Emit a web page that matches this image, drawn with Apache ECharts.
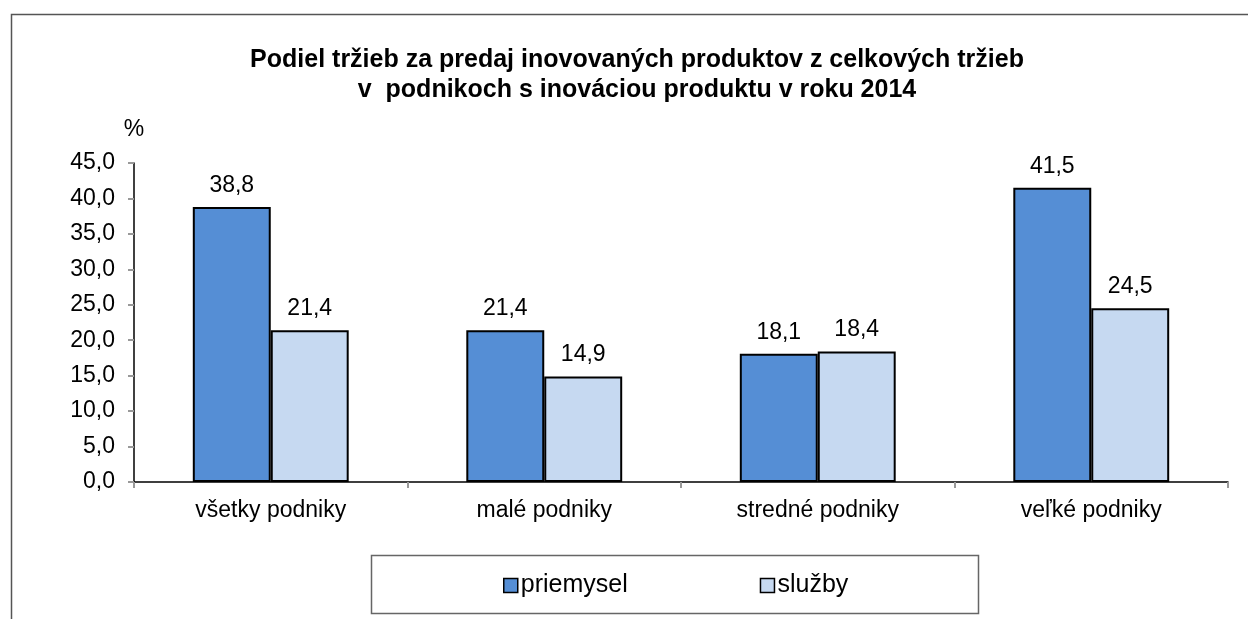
<!DOCTYPE html>
<html>
<head>
<meta charset="utf-8">
<script src="https://cdn.jsdelivr.net/npm/echarts@6/dist/echarts.min.js"></script>
<style>html,body{margin:0;padding:0;background:#fff}#c{width:1248px;height:619px}</style>
</head>
<body>
<div id="c"></div>
<script>
const titleText = 'Podiel tržieb za predaj inovovaných produktov z celkových tržieb\nv  podnikoch s inováciou produktu v roku 2014';
const categories = ['všetky podniky', 'malé podniky', 'stredné podniky', 'veľké podniky'];
const seriesNames = ['priemysel', 'služby'];
const priemysel = [38.8, 21.4, 18.1, 41.5];
const sluzby = [21.4, 14.9, 18.4, 24.5];
const yTicks = [0, 5, 10, 15, 20, 25, 30, 35, 40, 45];

const FONT = '"Liberation Sans", Arial, sans-serif';
const fmt = v => Number(v).toFixed(1).replace('.', ',');
const chart = echarts.init(document.getElementById('c'), null, {renderer: 'canvas'});
const colors = ['#558ED5', '#C6D9F1'];
const mkSeries = (name, data, color) => ({
  name, type: 'bar', data, barGap: '0%', barCategoryGap: '43%',
  itemStyle: {color, borderColor: '#000', borderWidth: 2},
  label: {show: true, position: 'top', distance: 10, formatter: p => fmt(p.value),
    fontFamily: FONT, fontSize: 23, color: '#000'}
});
chart.setOption({
  animation: false,
  textStyle: {fontFamily: FONT},
  title: {text: titleText, left: 632, textAlign: 'center', top: 40,
    textStyle: {fontFamily: FONT, fontSize: 25, fontWeight: 'bold', color: '#000', lineHeight: 30}},
  grid: {left: 134, right: 20, top: 163, bottom: 137, containLabel: false},
  legend: {left: 498, top: 568, itemGap: 132, icon: 'rect', itemWidth: 14, itemHeight: 14,
    data: seriesNames,
    itemStyle: {borderColor: '#000', borderWidth: 1.5},
    textStyle: {fontFamily: FONT, fontSize: 25, color: '#000', padding: [0, 0, 0, -2]}},
  xAxis: {type: 'category', data: categories,
    axisLine: {lineStyle: {color: '#000', width: 1.5}},
    axisTick: {show: true, interval: 0, length: 6, lineStyle: {color: '#999', width: 2}},
    axisLabel: {fontFamily: FONT, fontSize: 23, color: '#000', margin: 17}},
  yAxis: {type: 'value', min: yTicks[0], max: yTicks[yTicks.length - 1], interval: 5,
    name: '%', nameLocation: 'end', nameGap: 22,
    nameTextStyle: {fontFamily: FONT, fontSize: 23, color: '#000', align: 'center'},
    axisLine: {show: true, lineStyle: {color: '#000', width: 1.5}},
    axisTick: {show: true, length: 6, lineStyle: {color: '#999', width: 2}},
    splitLine: {show: false},
    axisLabel: {fontFamily: FONT, fontSize: 23, color: '#000', margin: 19, formatter: v => fmt(v)}},
  graphic: [
    {type: 'rect', shape: {x: 11.5, y: 14.5, width: 1260, height: 620}, style: {fill: 'none', stroke: '#555', lineWidth: 1.5}, z: -1},
    {type: 'rect', shape: {x: 371.5, y: 555.5, width: 607, height: 58}, style: {fill: 'none', stroke: '#666', lineWidth: 1.5}, z: -1}
  ],
  series: [mkSeries(seriesNames[0], priemysel, colors[0]), mkSeries(seriesNames[1], sluzby, colors[1])]
});
</script>
</body>
</html>
